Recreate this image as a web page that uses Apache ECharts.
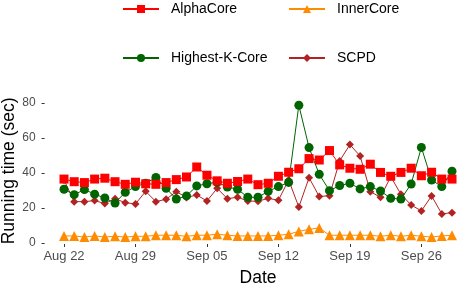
<!DOCTYPE html>
<html><head><meta charset="utf-8">
<script src="https://cdn.jsdelivr.net/npm/echarts@6/dist/echarts.min.js"></script>
<style>html,body{margin:0;padding:0;background:#fff}#c{width:459px;height:285px}</style>
</head><body><div id="c"></div>
<script>
const dates = ["Aug 22","Aug 23","Aug 24","Aug 25","Aug 26","Aug 27","Aug 28","Aug 29","Aug 30","Aug 31",
"Sep 01","Sep 02","Sep 03","Sep 04","Sep 05","Sep 06","Sep 07","Sep 08","Sep 09","Sep 10","Sep 11","Sep 12",
"Sep 13","Sep 14","Sep 15","Sep 16","Sep 17","Sep 18","Sep 19","Sep 20","Sep 21","Sep 22","Sep 23","Sep 24",
"Sep 25","Sep 26","Sep 27","Sep 28","Sep 29"];
const tickLabels = ["Aug 22","Aug 29","Sep 05","Sep 12","Sep 19","Sep 26"];
const yTicks = [0,20,40,60,80];
const alphaCore = [36.5,35.0,34.5,36.5,37.0,35.0,33.5,34.7,33.8,33.5,34.5,36.2,37.7,43.4,38.7,35.5,34.1,35.1,36.5,33.3,34.1,38.1,40.4,42.4,48.2,47.4,52.8,44.6,42.7,42.1,45.0,40.3,38.1,40.3,42.7,38.4,40.4,36.5,36.5];
const innerCore = [4.0,4.0,3.4,4.0,3.4,3.8,3.4,3.8,3.8,4.4,4.4,4.4,3.8,4.4,4.4,5.0,4.4,4.0,4.0,4.0,4.0,4.4,5.0,6.6,7.8,8.6,4.4,4.4,4.4,4.4,4.4,3.8,4.4,3.8,4.4,3.8,3.4,4.0,4.4];
const highestKCore = [30.7,27.6,30.5,27.9,25.7,22.8,29.0,32.2,34.1,37.4,31.2,25.1,26.9,32.6,33.8,34.7,32.0,30.7,26.1,26.1,29.5,32.2,34.6,78.7,54.5,39.2,29.9,32.8,34.1,30.9,32.2,29.7,25.5,25.1,33.7,54.6,36.0,32.2,41.0];
const scpd = [36.0,23.6,23.6,24.2,22.5,25.3,23.0,22.3,29.5,23.6,25.0,29.3,26.0,27.4,24.0,31.2,25.3,26.1,24.0,23.8,25.5,24.4,36.0,20.5,37.3,26.5,27.0,46.9,56.2,49.7,29.3,26.1,37.9,27.8,21.7,18.3,26.9,16.6,17.3];

const tickIdx = tickLabels.map(t => dates.indexOf(t));
const toPairs = arr => arr.map((v, i) => [i, v]);
const FONT = "Liberation Sans";

const chart = echarts.init(document.getElementById('c'), null, {renderer: 'canvas'});
function legend(name, left, top) {
  return {
    data: [name], left: left, top: top, itemWidth: 36, itemHeight: 10, itemGap: 0,
    padding: 0,
    textStyle: {fontFamily: FONT, fontSize: 14, color: '#000', padding: [0, 0, 0, 7]}
  };
}
function ser(name, arr, color, symbol, size, z) {
  return {
    name: name, type: 'line', data: toPairs(arr), symbol: symbol, symbolSize: size,
    showSymbol: true, z: z, clip: false,
    lineStyle: {color: color, width: 1}, itemStyle: {color: color}, emphasis: {disabled: true},
    animation: false
  };
}
chart.setOption({
  animation: false,
  textStyle: {fontFamily: FONT},
  legend: [
    legend('AlphaCore', 122, 2),
    legend('InnerCore', 288, 2),
    legend('Highest-K-Core', 122, 51),
    legend('SCPD', 288, 51)
  ],
  grid: {left: 44.6, right: -12.4, top: 97.7, bottom: 41, containLabel: false, outerBoundsMode: 'none'},
  xAxis: {
    type: 'value', min: -1.9, max: 39.9,
    name: 'Date', nameLocation: 'middle', nameGap: 25, nameMoveOverlap: false,
    nameTextStyle: {fontFamily: FONT, fontSize: 17.5, color: '#000'},
    axisLine: {show: false, onZero: false}, splitLine: {show: false},
    axisTick: {show: true, length: 3, lineStyle: {color: '#333'}, customValues: tickIdx},
    axisLabel: {customValues: tickIdx, fontFamily: FONT, fontSize: 13, color: '#4d4d4d', margin: 6,
      hideOverlap: false, formatter: v => dates[Math.round(v)]}
  },
  yAxis: {
    type: 'value', min: -0.6, max: 83,
    name: 'Running time (sec)', nameLocation: 'middle', nameGap: 26, nameRotate: 90, nameMoveOverlap: false,
    nameTextStyle: {fontFamily: FONT, fontSize: 17.5, color: '#000'},
    axisLine: {show: false, onZero: false}, splitLine: {show: false},
    axisTick: {show: true, length: 3, lineStyle: {color: '#333'}, customValues: yTicks},
    axisLabel: {customValues: yTicks, fontFamily: FONT, fontSize: 12, color: '#4d4d4d', margin: 9}
  },
  series: [
    ser('SCPD', scpd, '#B22222', 'diamond', 8, 2),
    ser('Highest-K-Core', highestKCore, '#006400', 'circle', 9, 3),
    ser('InnerCore', innerCore, '#FF8C00', 'triangle', 10, 4),
    ser('AlphaCore', alphaCore, '#FF0000', 'rect', 9, 5)
  ]
});
</script></body></html>
